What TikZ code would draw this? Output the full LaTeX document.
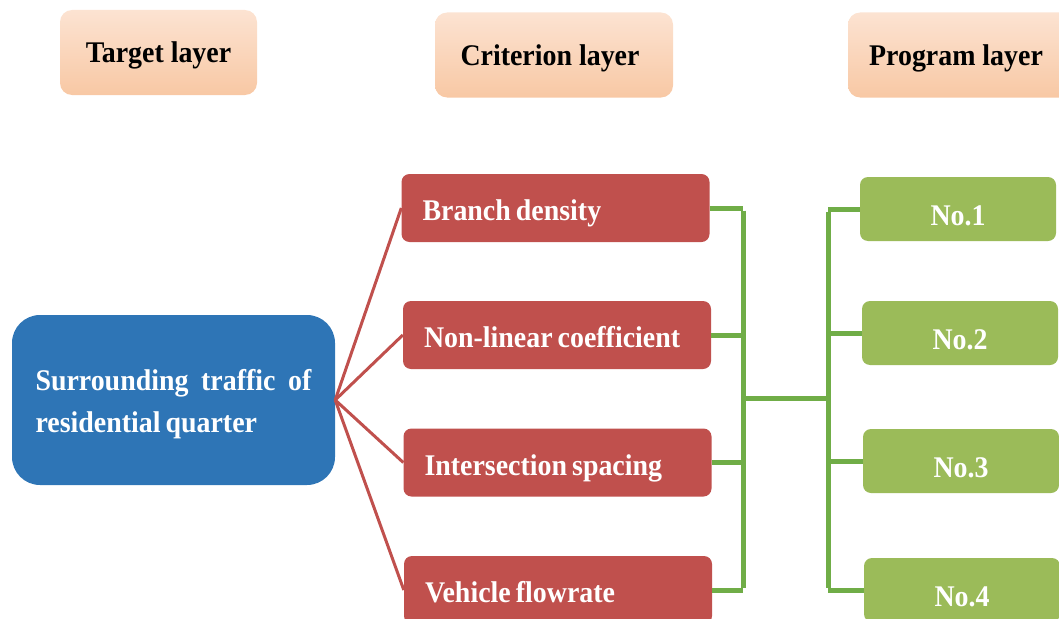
\documentclass[tikz,border=0pt]{standalone}
\usepackage{fontspec}
\setmainfont[FakeStretch=0.93]{Liberation Serif}
\definecolor{peach}{HTML}{F8C8A4}
\definecolor{peachlight}{HTML}{FCE3D2}
\definecolor{goalblue}{HTML}{2E75B6}
\definecolor{critred}{HTML}{C0504D}
\definecolor{progreen}{HTML}{9BBB59}
\definecolor{linkgreen}{HTML}{70AD47}
\newcommand{\diagfont}{\fontsize{30}{42}\selectfont\bfseries}
\newcommand{\tightspace}{\spaceskip 0.17em\relax}
\begin{document}
\begin{tikzpicture}[x=1pt,y=-1pt,
  every node/.style={inner sep=0pt, font=\diagfont},
  headbox/.style={rounded corners=12pt, top color=peachlight, bottom color=peach, draw=none, text=black,
    minimum height=85pt, text height=21pt, text depth=0pt},
  critbox/.style={rounded corners=8pt, fill=critred, text=white, minimum width=308pt, minimum height=68pt,
    text width=266pt, align=left, text height=25pt, text depth=0pt, execute at begin node=\tightspace},
  progbox/.style={rounded corners=8pt, fill=progreen, text=white, minimum width=196pt, minimum height=64pt,
    text height=32pt, text depth=0pt},
  redlink/.style={draw=critred, line width=3pt},
  greenlink/.style={draw=linkgreen, line width=5pt}
]
\useasboundingbox (0,0) rectangle (1059,618);
\clip (0,0) rectangle (1059,618);

% headers
\node[headbox, minimum width=197pt] (t1) at (158.5,52.5) {Target layer};
\node[headbox, minimum width=238pt] (t2) at (554,55) {\hspace*{-8pt}Criterion layer};
\node[headbox, minimum width=226pt] (t3) at (961,55) {\hspace*{-10pt}Program layer};

% goal
\node[rounded corners=28pt, fill=goalblue, text=white, minimum width=323pt, minimum height=170pt,
      text width=276pt, align=left, text height=22pt, text depth=42pt, execute at begin node=\tightspace] (goal) at (173.5,400)
  {\makebox[276pt][l]{Surrounding\hfill traffic\hfill of}\\residential quarter};

% criteria
\node[critbox] (c1) at (555.5,208) {Branch density};
\node[critbox] (c2) at (557,335) {Non-linear coefficient};
\node[critbox] (c3) at (557.5,462.5) {Intersection spacing};
\node[critbox] (c4) at (558,590) {Vehicle flowrate};

% programs
\node[progbox] (p1) at (958,209) {No.1};
\node[progbox] (p2) at (960,333) {No.2};
\node[progbox] (p3) at (961,461) {No.3};
\node[progbox] (p4) at (962,590) {No.4};

% red links
\foreach \i in {1,2,3,4} \draw[redlink] (goal.east) -- (c\i.west);

% green links
\coordinate (jl) at (743,398);
\coordinate (jr) at (828,398);
\foreach \i in {1,2,3,4} \draw[greenlink] (c\i.east) -- (c\i.east -| jl);
\draw[greenlink] ([yshift=-2.5pt]jl |- c1.east) -- ([yshift=2.5pt]jl |- c4.east);
\draw[greenlink] (jl) -- (jr);
\foreach \i in {1,2,3,4} \draw[greenlink] (jr |- p\i.west) -- (p\i.west);
\draw[greenlink] ([yshift=-2.5pt]jr |- p1.west) -- ([yshift=2.5pt]jr |- p4.west);
\end{tikzpicture}
\end{document}
